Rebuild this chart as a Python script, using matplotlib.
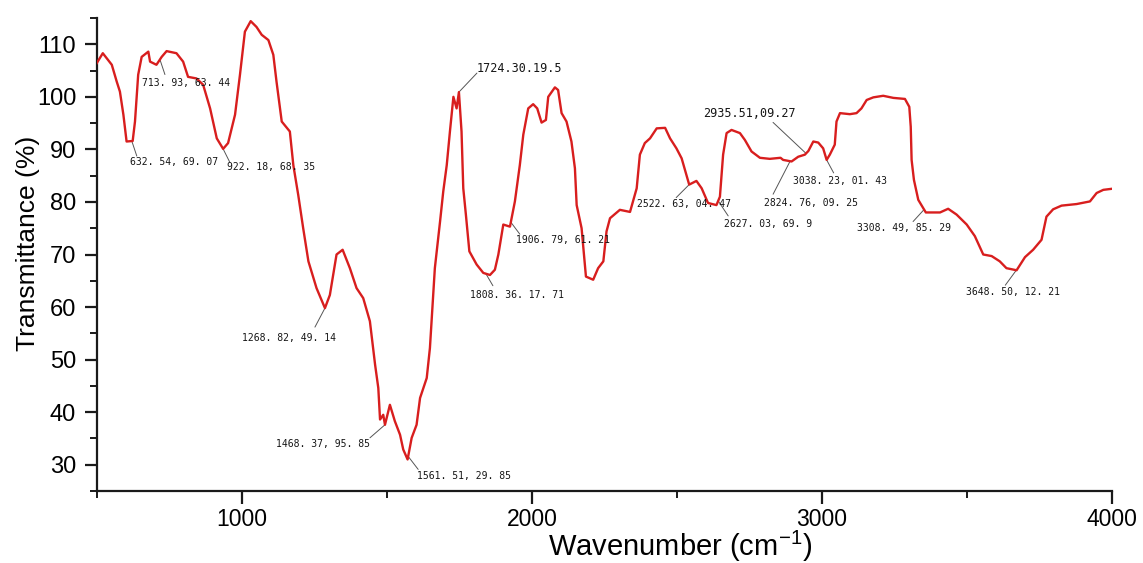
import numpy as np
import matplotlib
matplotlib.use("Agg")
import matplotlib.pyplot as plt
from matplotlib.ticker import MultipleLocator

# ---------------- data ----------------
wavenumber = [499, 520, 551, 568, 579, 591, 602, 623, 631, 642, 654, 677, 683, 705, 723, 740,
              774, 797, 814, 843, 866, 890, 913, 935, 952, 976, 993, 1010, 1030, 1050, 1068,
              1091, 1108, 1119, 1137, 1165, 1177, 1194, 1211, 1229, 1257, 1286, 1303, 1326,
              1347, 1372, 1395, 1418, 1441, 1459, 1470, 1476, 1487, 1493, 1510, 1527, 1545,
              1556, 1571, 1585, 1602, 1614, 1637, 1648, 1665, 1683, 1694, 1706, 1717, 1729,
              1740, 1748, 1757, 1763, 1772, 1784, 1809, 1832, 1855, 1872, 1884, 1901, 1924,
              1941, 1958, 1970, 1987, 2004, 2018, 2033, 2048, 2056, 2079, 2090, 2102, 2119,
              2136, 2148, 2154, 2171, 2186, 2211, 2228, 2246, 2257, 2269, 2303, 2338, 2361,
              2372, 2389, 2407, 2430, 2459, 2476, 2498, 2516, 2542, 2567, 2585, 2607, 2636,
              2648, 2659, 2671, 2688, 2717, 2734, 2757, 2786, 2820, 2857, 2866, 2895, 2918,
              2941, 2953, 2970, 2987, 3004, 3016, 3027, 3044, 3050, 3062, 3096, 3119, 3136,
              3154, 3177, 3211, 3246, 3286, 3301, 3306, 3309, 3317, 3332, 3358, 3407, 3435,
              3464, 3499, 3527, 3556, 3585, 3613, 3636, 3671, 3700, 3728, 3757, 3774, 3797,
              3826, 3878, 3924, 3947, 3970, 3999]
transmittance = [106.4, 108.3, 106.1, 102.9, 101.0, 96.6, 91.5, 91.6, 95.3, 104.2, 107.6, 108.6,
                 106.7, 106.1, 107.6, 108.7, 108.3, 106.7, 103.8, 103.5, 102.3, 97.8, 92.1,
                 90.1, 91.2, 96.6, 104.2, 112.4, 114.4, 113.3, 111.8, 110.8, 108.0, 102.9,
                 95.3, 93.4, 87.0, 81.3, 75.0, 68.7, 63.6, 59.8, 62.3, 70.0, 70.9, 67.4, 63.6,
                 61.7, 57.3, 49.0, 44.6, 38.6, 39.5, 37.6, 41.4, 38.3, 35.7, 32.9, 31.0, 35.1,
                 37.6, 42.7, 46.5, 52.2, 67.4, 76.3, 82.0, 87.0, 93.4, 100.0, 97.8, 100.9,
                 93.4, 82.6, 77.6, 70.6, 68.1, 66.5, 66.1, 67.1, 70.0, 75.7, 75.3, 80.1, 87.0,
                 92.8, 97.8, 98.6, 97.8, 95.1, 95.6, 100.0, 101.8, 101.3, 96.9, 95.3, 91.5,
                 86.4, 79.4, 75.0, 65.8, 65.2, 67.4, 68.7, 74.4, 76.9, 78.5, 78.1, 82.6, 89.0,
                 91.2, 92.1, 94.0, 94.1, 92.1, 90.2, 88.3, 83.3, 84.0, 82.6, 79.8, 79.4, 81.0,
                 89.0, 93.1, 93.7, 93.1, 91.8, 89.6, 88.4, 88.2, 88.4, 88.0, 87.7, 88.6, 89.0,
                 89.7, 91.5, 91.3, 90.2, 88.0, 89.0, 90.9, 95.3, 96.9, 96.7, 96.9, 97.8, 99.4,
                 99.9, 100.2, 99.8, 99.6, 98.1, 94.3, 88.0, 84.2, 80.4, 78.0, 78.0, 78.7, 77.6,
                 75.7, 73.5, 70.0, 69.7, 68.7, 67.4, 67.0, 69.5, 70.9, 72.8, 77.2, 78.6, 79.3,
                 79.6, 80.1, 81.7, 82.3, 82.5]

peak_labels = ["713. 93, 63. 44", "632. 54, 69. 07", "922. 18, 68. 35", "1268. 82, 49. 14",
               "1468. 37, 95. 85", "1561. 51, 29. 85", "1724.30.19.5", "1808. 36. 17. 71",
               "1906. 79, 61. 21", "2522. 63, 04. 47", "2627. 03, 69. 9", "2935.51,09.27",
               "2824. 76, 09. 25", "3038. 23, 01. 43", "3308. 49, 85. 29", "3648. 50, 12. 21"]
peak_x = [717, 620, 934, 1286, 1493, 1573, 1748, 1841, 1927, 2542, 2642, 2945, 2890, 3016,
          3352, 3670]

# layout of labels (offsets in pixels): leader-line end, text anchor (left/center)
line_end = [(5, -15), (5, -15), (7, -14), (-10, -19), (-15, -13), (10, -13), (18, 19),
            (7, -12), (9, -12), (-13, -13), (10, -15), (-33, 31), (-17, -33), (7, -13),
            (-11, -12), (-11, -15)]
text_off = [(-18, -23), (-2, -21), (4, -19), (-83, -30), (-109, -19), (9, -20), (18, 24),
            (-16, -21), (5, -18), (-52, -19), (6, -23), (-103, 40), (-26, -42), (-34, -21),
            (-67, -18), (-50, -22)]
big_font = {"1724.30.19.5", "2935.51,09.27"}

# ---------------- figure ----------------
plt.rcParams["font.family"] = ["Liberation Sans", "DejaVu Sans"]
plt.rcParams["mathtext.fontset"] = "custom"
plt.rcParams["mathtext.rm"] = "Liberation Sans"
plt.rcParams["mathtext.default"] = "regular"

fig = plt.figure(figsize=(11.43, 5.63), dpi=100)
ax = fig.add_axes([97 / 1143, 1 - 491 / 563, (1112 - 97) / 1143, (491 - 18) / 563])

ax.plot(wavenumber, transmittance, color="#d81e1e", lw=1.7, zorder=3)

wn = np.array(wavenumber, float)
tr = np.array(transmittance, float)
for lab, px, le, to in zip(peak_labels, peak_x, line_end, text_off):
    py = float(np.interp(px, wn, tr))
    ax.annotate("", xy=(px, py), xytext=le, textcoords="offset pixels",
                arrowprops=dict(arrowstyle="-", color="#555555", lw=0.7,
                                shrinkA=0, shrinkB=0), zorder=2)
    ax.annotate(lab, xy=(px, py), xytext=to, textcoords="offset pixels",
                ha="left", va="center", family="DejaVu Sans Mono",
                fontsize=8.5 if lab in big_font else 7, color="#151515", zorder=4)

ax.set_xlim(500, 4000)
ax.set_ylim(25, 115)
ax.xaxis.set_major_locator(MultipleLocator(1000))
ax.xaxis.set_minor_locator(MultipleLocator(500))
ax.yaxis.set_major_locator(MultipleLocator(10))
ax.yaxis.set_minor_locator(MultipleLocator(5))
ax.set_yticks(np.arange(30, 111, 10))

for s in ("top", "right"):
    ax.spines[s].set_visible(False)
for s in ("left", "bottom"):
    ax.spines[s].set_linewidth(1.6)
    ax.spines[s].set_color("#1a1a1a")

ax.tick_params(axis="both", which="major", direction="out", length=9, width=1.6,
               labelsize=17, color="#1a1a1a")
ax.tick_params(axis="both", which="minor", direction="out", length=5, width=1.4,
               color="#1a1a1a")
ax.tick_params(axis="x", which="major", pad=3.5, labelsize=16.5)
ax.tick_params(axis="y", which="major", pad=6)

ax.set_xlabel(r"Wavenumber (cm$^{-1}$)", fontsize=21)
ax.set_ylabel("Transmittance (%)", fontsize=19)
ax.xaxis.set_label_coords((680 - 97) / 1015, -0.079)
ax.yaxis.set_label_coords(-0.056, 0.524)

fig.savefig("out.png", dpi=100)
